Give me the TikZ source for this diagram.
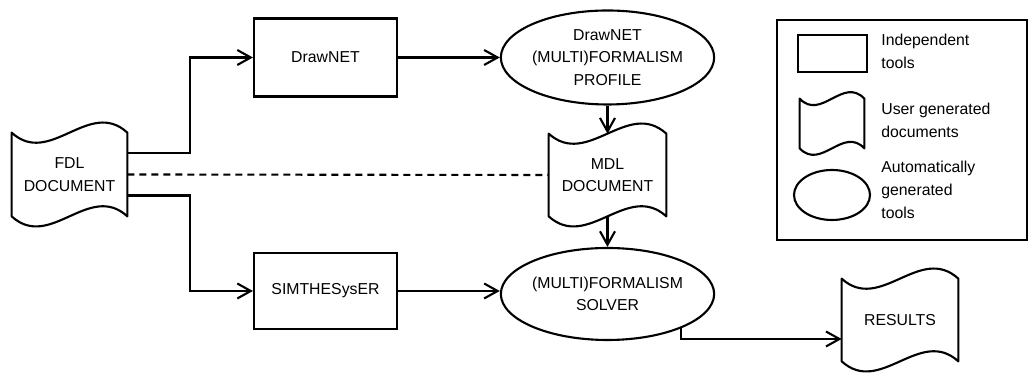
\documentclass[tikz,border=0pt]{standalone}
\usepackage{fontspec}
\setmainfont{Liberation Sans}
\usepackage{tikz}
\usetikzlibrary{arrows.meta,positioning,shapes.geometric,calc}

\tikzset{
  tool/.style={draw, line width=1.2pt, minimum width=2.86cm,
               minimum height=1.54cm, inner sep=0pt},
  gentool/.style={ellipse, draw, line width=1.2pt, inner sep=0pt, align=center},
  userdoc/.style={inner sep=0pt, align=center},
  conn/.style={line width=1.2pt, -{Straight Barb[length=2.7mm,width=3mm]}},
  legtext/.style={anchor=west, align=left, inner sep=0pt}
}
% wavy outline round a document node: #1 = wave depth, #2 = node name
\newcommand{\docwave}[2][0.7cm]{%
  \draw[line width=1.2pt, line join=round]
    (#2.north west) .. controls ($(#2.north west)!0.33!(#2.north east)+(0,-#1)$)
      and ($(#2.north west)!0.67!(#2.north east)+(0,#1)$) .. (#2.north east)
    -- (#2.south east) .. controls ($(#2.south west)!0.67!(#2.south east)+(0,#1)$)
      and ($(#2.south west)!0.33!(#2.south east)+(0,-#1)$) .. (#2.south west)
    -- cycle;}

\begin{document}
\begin{tikzpicture}[font=\fontsize{9}{12.9}\selectfont]
  \useasboundingbox (0,0) rectangle (20.58,7.46);

  % documents written by the user
  \node[userdoc, minimum width=2.30cm, minimum height=1.66cm] (fdl) at (1.39,3.97) {FDL\\DOCUMENT};
  \docwave{fdl}
  \node[userdoc, minimum width=2.34cm, minimum height=1.64cm] (mdl) at (12.15,3.96) {MDL\\DOCUMENT};
  \docwave{mdl}
  \node[userdoc, minimum width=2.32cm, minimum height=1.64cm] (results) at (18.00,1.06) {RESULTS};
  \docwave{results}

  % tools
  \node[tool, minimum height=1.56cm] (drawnet) at (6.51,6.31) {DrawNET};
  \node[tool, minimum height=1.52cm] (simth) at (6.51,1.64) {SIMTHESysER};
  \node[gentool, minimum width=4.24cm, minimum height=1.88cm] (profile) at (12.15,6.31)
       {DrawNET\\(MULTI)FORMALISM\\PROFILE};
  \node[gentool, minimum width=4.10cm, minimum height=1.84cm] (solver) at (12.15,1.58)
       {(MULTI)FORMALISM\\SOLVER};

  % connectors
  \draw[conn] ([yshift=4.3mm]fdl.east) -| ([xshift=-1.26cm]drawnet.west) -- (drawnet.west);
  \draw[conn] ([yshift=-4.2mm]fdl.east) -| ([xshift=-1.26cm]simth.west) -- (simth.west);
  \draw[line width=1.2pt, dash pattern=on 0.14cm off 0.1cm] (fdl.east) -- (mdl.west);
  \draw[conn] (drawnet.east) -- (drawnet.east -| profile.west);
  \draw[conn] (simth.east) -- (simth.east -| solver.west);
  \draw[conn] (profile.south) -- (mdl.north);
  \draw[conn] (mdl.south) -- (solver.north);
  \draw[conn] (solver.-25) |- ([yshift=-3.8mm]results.west);

  % legend
  \draw[line width=1.2pt] (15.54,7.06) rectangle (20.54,2.66);
  \node[tool, minimum width=1.38cm, minimum height=0.74cm] (legtool) at (16.65,6.39) {};
  \node[userdoc, minimum width=1.28cm, minimum height=0.98cm] (legdoc) at (16.64,4.99) {};
  \docwave[0.45cm]{legdoc}
  \node[gentool, minimum width=1.52cm, minimum height=1.00cm] (leggen) at (16.64,3.56) {};
  \node[legtext] (legtooltxt) at (17.62,6.43) {Independent\\tools};
  \node[legtext] (legdoctxt) at (17.62,5.05) {User generated\\documents};
  \node[legtext] (leggentxt) at (17.62,3.66) {Automatically\\generated\\tools};
\end{tikzpicture}
\end{document}
